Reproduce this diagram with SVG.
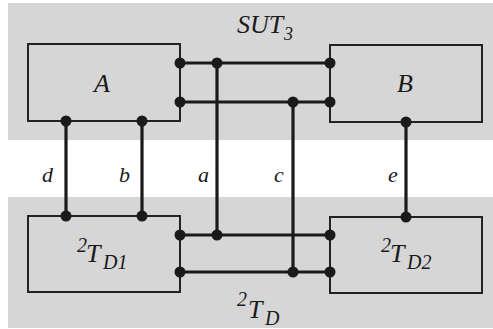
<svg xmlns="http://www.w3.org/2000/svg" width="493" height="329" viewBox="0 0 493 329">
<style>
.band{fill:#d6d6d6}
.box{fill:none;stroke:#222;stroke-width:2}
.wire{fill:none;stroke:#1a1a1a;stroke-width:3.2}
.dot{fill:#1a1a1a}
.t{font-family:"Liberation Serif",serif;font-style:italic;font-size:26px;fill:#1a1a1a}
.s{font-size:20px}
.l{font-size:22px}
</style>
<rect width="493" height="329" fill="#fff"/>
<rect class="band" x="8" y="3" width="485" height="137"/>
<rect class="band" x="8" y="197" width="485" height="131"/>
<text class="t" x="237" y="33" font-size="25">SUT<tspan x="284" y="40" font-size="18">3</tspan></text>
<text class="t"><tspan class="s" x="237" y="306">2</tspan><tspan x="248" y="318">T</tspan><tspan class="s" x="265" y="325">D</tspan></text>
<g id="connectors">
<path class="wire" d="M180 63H330M180 102H330M180 235H330M180 272H330M217 63V235M293 102V272M66 121V216M142 121V216M406 121V217"/>
</g>
<g id="A">
<rect class="box" x="28" y="44" width="152" height="77"/>
<text class="t" x="94" y="92">A</text>
</g>
<g id="B">
<rect class="box" x="330" y="45" width="152" height="77"/>
<text class="t" x="397" y="92">B</text>
</g>
<g id="TD1">
<rect class="box" x="28" y="216" width="152" height="76"/>
<text class="t"><tspan class="s" x="77" y="252">2</tspan><tspan x="86" y="262">T</tspan><tspan class="s" x="103" y="269">D1</tspan></text>
</g>
<g id="TD2">
<rect class="box" x="330" y="217" width="152" height="76"/>
<text class="t"><tspan class="s" x="381" y="252">2</tspan><tspan x="390" y="262">T</tspan><tspan class="s" x="407" y="269">D2</tspan></text>
</g>
<g id="dots">
<circle class="dot" cx="180" cy="63" r="5.5"/><circle class="dot" cx="217" cy="63" r="5.5"/><circle class="dot" cx="330" cy="63" r="5.5"/>
<circle class="dot" cx="180" cy="102" r="5.5"/><circle class="dot" cx="293" cy="102" r="5.5"/><circle class="dot" cx="330" cy="102" r="5.5"/>
<circle class="dot" cx="180" cy="235" r="5.5"/><circle class="dot" cx="217" cy="235" r="5.5"/><circle class="dot" cx="330" cy="235" r="5.5"/>
<circle class="dot" cx="180" cy="272" r="5.5"/><circle class="dot" cx="293" cy="272" r="5.5"/><circle class="dot" cx="330" cy="272" r="5.5"/>
<circle class="dot" cx="66" cy="121" r="5.5"/><circle class="dot" cx="142" cy="121" r="5.5"/><circle class="dot" cx="406" cy="122" r="5.5"/>
<circle class="dot" cx="66" cy="216" r="5.5"/><circle class="dot" cx="142" cy="216" r="5.5"/><circle class="dot" cx="406" cy="217" r="5.5"/>
</g>
<g id="labels">
<text class="t l" x="42" y="182">d</text>
<text class="t l" x="119" y="182">b</text>
<text class="t l" x="198" y="182">a</text>
<text class="t l" x="274" y="182">c</text>
<text class="t l" x="388" y="182">e</text>
</g>
</svg>
